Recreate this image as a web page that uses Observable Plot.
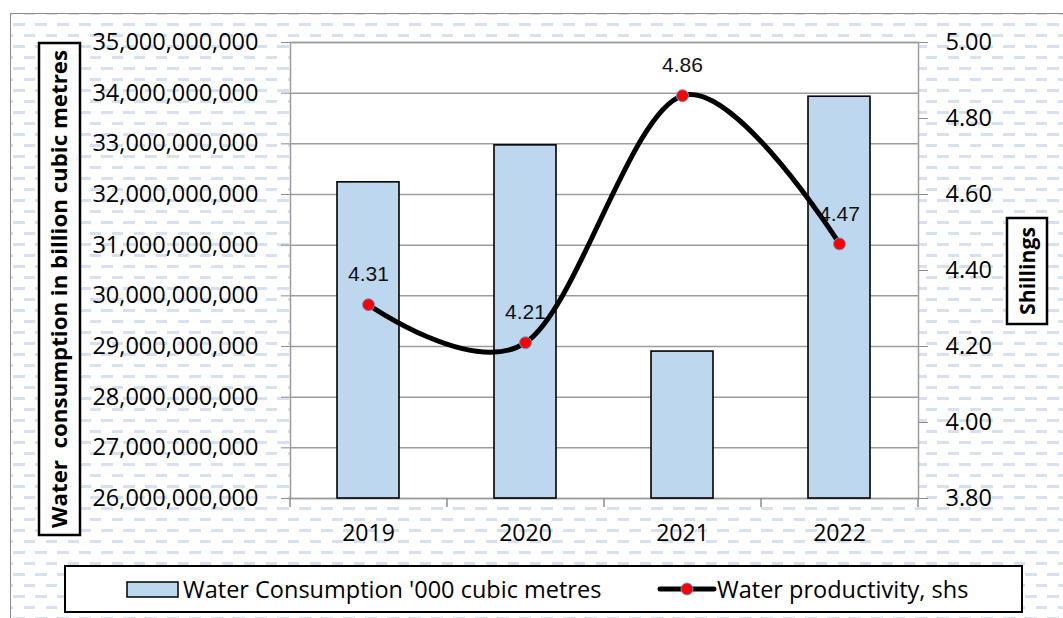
<!DOCTYPE html>
<html><head><meta charset="utf-8">
<script src="https://cdn.jsdelivr.net/npm/d3@7"></script>
<script src="https://cdn.jsdelivr.net/npm/@observablehq/plot@0.6"></script>
<style>
html,body{margin:0;padding:0;background:#fff;width:1063px;height:618px;overflow:hidden;font-family:"Open Sans",sans-serif;}
#bg{position:absolute;left:10px;top:13px;width:1100px;height:700px;border:1.5px solid #8e8e8e;
background-image:url("data:image/svg+xml,%3Csvg xmlns='http://www.w3.org/2000/svg' width='22' height='22'%3E%3Crect x='0' y='0' width='12' height='3' fill='%23d5e1f1'/%3E%3Crect x='11' y='11' width='12' height='3' fill='%23d5e1f1'/%3E%3C/svg%3E");
background-position:2px 9px;}
#chart{position:absolute;left:0;top:0;}
.box{position:absolute;border:2px solid #000;background:#fff;box-sizing:border-box;}
#legend{left:64px;top:565px;width:959px;height:48px;}
.lg{position:absolute;top:0;height:44px;line-height:44px;font-size:23.5px;color:#000;white-space:nowrap;}
</style></head>
<body>
<div id="bg"></div>
<div id="chart"></div>
<svg style="position:absolute;left:0;top:0;overflow:visible" width="1063" height="618">
  <rect x="39" y="43" width="41" height="492" fill="#fff" stroke="#000" stroke-width="2.5"/>
  <text transform="translate(67,289) rotate(-90)" text-anchor="middle" font-family="Open Sans" font-weight="700" font-size="21" textLength="478" lengthAdjust="spacingAndGlyphs" fill="#000">Water&#160; consumption in billion cubic metres</text>
  <rect x="1007" y="218" width="40" height="106" fill="#fff" stroke="#000" stroke-width="2.5"/>
  <text transform="translate(1035,271) rotate(-90)" text-anchor="middle" font-family="Open Sans" font-weight="700" font-size="21" textLength="88" lengthAdjust="spacingAndGlyphs" fill="#000">Shillings</text>
</svg>
<div id="legend" class="box">
  <svg style="position:absolute;left:60px;top:14px" width="54" height="18"><rect x="1" y="1" width="51" height="15" fill="#bdd7ee" stroke="#000" stroke-width="1.5"/></svg>
  <div class="lg" style="left:117px">Water Consumption '000 cubic metres</div>
  <svg style="position:absolute;left:590px;top:12px" width="62" height="20"><line x1="4" y1="10" x2="58" y2="10" stroke="#000" stroke-width="5" stroke-linecap="round"/><circle cx="31" cy="10" r="6" fill="#ff0000" stroke="#5b9bd5" stroke-width="1"/></svg>
  <div class="lg" style="left:651px">Water productivity, shs</div>
</div>
<script>
const years = ["2019", "2020", "2021", "2022"];
const consumption = [32.24e9, 32.97e9, 28.90e9, 33.93e9];
const productivity = [4.31, 4.21, 4.86, 4.47];
const leftTicks = [26e9, 27e9, 28e9, 29e9, 30e9, 31e9, 32e9, 33e9, 34e9, 35e9];
const rightTicks = [3.8, 4.0, 4.2, 4.4, 4.6, 4.8, 5.0];

const L0 = leftTicks[0], L1 = leftTicks[leftTicks.length - 1];
const R0 = rightTicks[0], R1 = rightTicks[rightTicks.length - 1];
const toLeft = s => L0 + (s - R0) / (R1 - R0) * (L1 - L0);
const toRight = v => R0 + (v - L0) / (L1 - L0) * (R1 - R0);

const data = years.map((y, i) => ({year: y, cons: consumption[i], prod: productivity[i]}));

const plot = Plot.plot({
  width: 1063, height: 618,
  marginLeft: 290, marginRight: 145, marginTop: 42, marginBottom: 120,
  style: {background: "transparent", color: "#000", fontFamily: "Open Sans", overflow: "visible"},
  x: {domain: years, paddingInner: 0.605, paddingOuter: 0.3025, label: null},
  y: {domain: [L0, L1], label: null},
  marks: [
    Plot.frame({fill: "#fff", stroke: null}),
    Plot.gridY(leftTicks, {stroke: "#9c9c9c", strokeOpacity: 1, strokeWidth: 1.5}),
    Plot.frame({stroke: "#9c9c9c", strokeWidth: 1.5}),
    Plot.barY(data, {x: "year", y1: L0, y2: "cons", fill: "#bdd7ee", stroke: "#000", strokeWidth: 1.6}),
    Plot.line(data, {x: "year", y: d => toLeft(d.prod), stroke: "#000", strokeWidth: 5, curve: "cardinal"}),
    Plot.dot(data, {x: "year", y: d => toLeft(d.prod), r: 6, fill: "#ff0000", stroke: "#5b9bd5", strokeWidth: 1}),
    Plot.text(data, {x: "year", y: d => toLeft(d.prod), text: d => d.prod.toFixed(2), dy: -30, fontSize: 21, fontFamily: "Liberation Sans", fill: "#111"}),
    Plot.axisY(leftTicks, {anchor: "left", tickFormat: d3.format(","), tickSize: 9, tickPadding: 23, fontSize: 23.5, stroke: "#8c8c8c", label: null}),
    Plot.axisY(rightTicks.map(toLeft), {anchor: "right", tickFormat: v => toRight(v).toFixed(2), tickSize: 9, tickPadding: 18, fontSize: 23.5, stroke: "#8c8c8c", label: null}),
    Plot.axisX({tickSize: 0, tickPadding: 26, fontSize: 23, label: null})
  ]
});
document.getElementById("chart").appendChild(plot);

// category boundary tick marks below the x axis, from the x scale
const xs = plot.scale("x");
const ys = plot.scale("y");
const yb = ys.apply(L0);
const svg = d3.select(plot);
d3.range(years.length + 1).forEach(k => {
  const xb = xs.range[0] + k * xs.step;
  svg.append("line").attr("x1", xb).attr("x2", xb).attr("y1", yb).attr("y2", yb + 9)
    .attr("stroke", "#8c8c8c").attr("stroke-width", 1.5);
});
</script>
</body></html>
